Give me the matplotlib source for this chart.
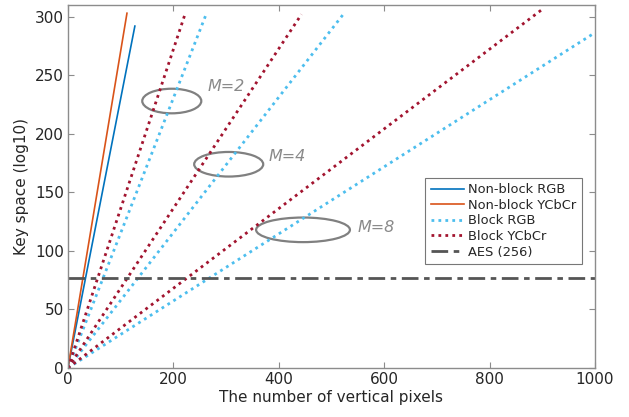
import matplotlib
matplotlib.use("Agg")
import matplotlib.pyplot as plt
from matplotlib.patches import Ellipse

# line end points (all series start at the origin)
nonblock_rgb_x = [0, 127]
nonblock_rgb_y = [0, 292]
nonblock_ycbcr_x = [0, 112]
nonblock_ycbcr_y = [0, 303]

block_m = [2, 4, 8]
block_rgb_x_end = [263, 524, 995]
block_rgb_y_end = [303, 303, 285]
block_ycbcr_x_end = [222, 443, 899]
block_ycbcr_y_end = [302, 302, 306]

aes_level = 77.06  # log10(2^256)

# group markers: (centre x, centre y, width, height) and label anchor
group_labels = ["M=2", "M=4", "M=8"]
ellipse_cx = [197, 305, 446]
ellipse_cy = [228, 174, 118]
ellipse_w = [112, 131, 178]
ellipse_h = [21, 21, 21]
label_x = [264, 381, 550]
label_y = [240, 181, 120]

BLUE = "#0072BD"
ORANGE = "#D95319"
CYAN = "#4DBEEE"
RED = "#A2142F"
AXIS_GRAY = "#8c8c8c"
TEXT = "#262626"

plt.rcParams["font.family"] = ["DejaVu Sans"]

fig = plt.figure(figsize=(6.29, 4.17), dpi=100)
ax = fig.add_axes([0.108, 0.1175, 0.838, 0.8705])

ax.plot(nonblock_rgb_x, nonblock_rgb_y, color=BLUE, lw=1.2, label="Non-block RGB")
ax.plot(nonblock_ycbcr_x, nonblock_ycbcr_y, color=ORANGE, lw=1.2, label="Non-block YCbCr")

dots = (0, (1, 1.5))
for i, m in enumerate(block_m):
    ax.plot([0, block_rgb_x_end[i]], [0, block_rgb_y_end[i]], color=CYAN, lw=2.0,
            linestyle=dots, label="Block RGB" if i == 0 else None)
for i, m in enumerate(block_m):
    ax.plot([0, block_ycbcr_x_end[i]], [0, block_ycbcr_y_end[i]], color=RED, lw=2.0,
            linestyle=dots, label="Block YCbCr" if i == 0 else None)

ax.axhline(aes_level, color="#555555", lw=2, linestyle=(0, (6, 2, 2, 2)), label="AES (256)")

for i, text in enumerate(group_labels):
    ax.add_patch(Ellipse((ellipse_cx[i], ellipse_cy[i]), ellipse_w[i], ellipse_h[i],
                         fill=False, edgecolor="#808080", lw=1.6))
    ax.text(label_x[i], label_y[i], text, color="#8a8a8a", fontsize=11.5,
            style="italic", va="center", ha="left")

ax.set_xlim(0, 1000)
ax.set_ylim(0, 310)
ax.set_xticks(range(0, 1001, 200))
ax.set_yticks(range(0, 301, 50))
ax.tick_params(direction="in", top=True, right=True, length=4, color=AXIS_GRAY,
               labelsize=11, labelcolor=TEXT, pad=3)
for spine in ax.spines.values():
    spine.set_color(AXIS_GRAY)
    spine.set_linewidth(1.0)

ax.set_xlabel("The number of vertical pixels", fontsize=11, color=TEXT, labelpad=2)
ax.set_ylabel("Key space (log10)", fontsize=11, color=TEXT, labelpad=4)

leg = ax.legend(loc="lower right", bbox_to_anchor=(0.975, 0.287), fontsize=9.4,
                frameon=True, fancybox=False, edgecolor="#555555", handlelength=2.6,
                handletextpad=0.3, labelspacing=0.2, borderpad=0.4, borderaxespad=0)
leg.get_frame().set_linewidth(0.8)
for t in leg.get_texts():
    t.set_color(TEXT)

fig.savefig("out.png", dpi=100)
